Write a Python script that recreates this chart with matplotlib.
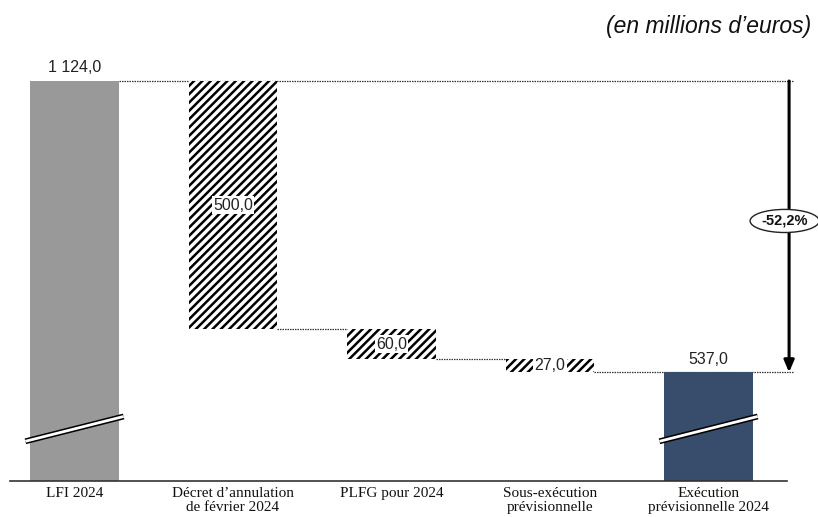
#WATERFALL - EXECUTION 2024 (en millions d'euros)
import matplotlib.pyplot as plt

#DATA
categories = ["LFI 2024", "Décret d’annulation\nde février 2024", "PLFG pour 2024",
              "Sous-exécution\nprévisionnelle", "Exécution\nprévisionnelle 2024"]
values = [1124.0, -500.0, -60.0, -27.0, 537.0]
is_total = [True, False, False, False, True]

def fr(v):
    s = "{:,.1f}".format(abs(v))
    return s.replace(",", " ").replace(".", ",")

#STYLE
plt.rcParams['hatch.linewidth'] = 1.8
sans = ['Liberation Sans', 'DejaVu Sans']
serif = ['Liberation Serif', 'DejaVu Serif']
total_colors = {0: '#999999', 4: '#384c6b'}
w = 0.56

fig = plt.figure(figsize=(8.18, 5.17), dpi=100)
ax = fig.add_axes([10/818, 36/517, 800/818, 431/517])

#BARS
running = 0
levels = []
for i, v in enumerate(values):
    if is_total[i]:
        ax.bar(i, v, w, bottom=0, color=total_colors[i], zorder=2)
        running = v
        ax.annotate(fr(v), (i, v), xytext=(0, 4), textcoords='offset points',
                    ha='center', va='bottom', fontsize=11.5, family=sans, color='#222222')
    else:
        ax.bar(i, -v, w, bottom=running + v, color='white', edgecolor='black',
               linewidth=0, hatch='////', zorder=2)
        ax.text(i, running + v / 2, fr(v), ha='center', va='center', fontsize=11.5,
                family=sans, color='#222222', zorder=4,
                bbox=dict(boxstyle='square,pad=0.08', fc='white', ec='none'))
        running += v
    levels.append(running)

#CONNECTORS (dotted)
xend = 4.53
dot = dict(color='#333333', lw=0.9, linestyle=(0, (1.2, 0.8)), zorder=1)
ax.plot([0 + w/2, xend], [levels[0], levels[0]], **dot)
for i in range(1, len(values) - 2):
    ax.plot([i + w/2, i + 1 - w/2], [levels[i], levels[i]], **dot)
ax.plot([3 + w/2, xend], [levels[3], levels[3]], **dot)

#AXIS BREAK MARKS on the total bars
for i in [0, 4]:
    bx = [i - 0.31, i + 0.31]
    by = [398, 448]
    ax.plot(bx, by, color='black', lw=4.2, solid_capstyle='butt', zorder=3)
    ax.plot(bx, by, color='white', lw=2.0, solid_capstyle='butt', zorder=3)

#ARROW + PERCENT
pct = (values[-1] - values[0]) / values[0] * 100
ax.annotate('', xy=(4.508, values[-1]), xytext=(4.508, values[0]),
            arrowprops=dict(arrowstyle='-|>,head_width=0.3,head_length=0.7',
                            lw=2.2, color='black', shrinkA=0, shrinkB=0), zorder=5)
ax.text(4.48, 842, "{:.1f}%".format(pct).replace(".", ","), ha='center', va='center',
        fontsize=10.5, fontweight='bold', family=sans, color='#111111', zorder=6,
        bbox=dict(boxstyle='ellipse,pad=0.08', fc='white', ec='#222222', lw=1))

#BASELINE
ax.plot([-0.407, 4.495], [318, 318], color='#333333', lw=1.2, zorder=3, clip_on=False)

#AXES
ax.set_xlim(-0.407, 4.640)
ax.set_ylim(318, 1186.5)
ax.set_xticks(range(len(categories)))
ax.set_xticklabels(categories, fontsize=11, family=serif, color='#111111', linespacing=1.15)
ax.tick_params(axis='x', length=0, pad=4)
ax.set_yticks([])
for s in ax.spines.values():
    s.set_visible(False)

fig.text(811/818, 1 - 27/517, "(en millions d’euros)", ha='right', va='center',
         fontsize=16.5, style='italic', family=sans, color='#111111')

plt.savefig('out.png', dpi=100)
